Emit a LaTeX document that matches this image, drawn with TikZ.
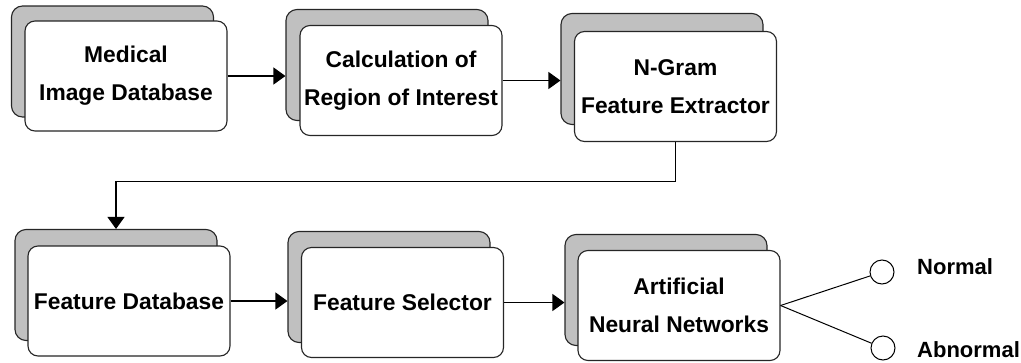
\documentclass[tikz,border=0pt]{standalone}
\usepackage{fontspec}
\setmainfont{Liberation Sans}
\usetikzlibrary{arrows.meta,positioning}
\definecolor{shadegray}{HTML}{C0C0C0}
\tikzset{
  backbox/.style={draw=black!85, line width=1.1pt, fill=shadegray, rounded corners=11pt,
    minimum width=202pt, minimum height=111pt, inner sep=0pt},
  frontbox/.style={draw=black!85, line width=1.1pt, fill=white, rounded corners=10pt,
    minimum width=202pt, minimum height=110pt, inner sep=2pt, align=center,
    font=\fontsize{22.8}{38}\selectfont\bfseries},
  flow/.style={line width=1.1pt, -{Triangle[length=12pt,width=17pt]}},
  link/.style={line width=1pt},
  outcome/.style={circle, draw=black, line width=1pt, minimum size=24pt, inner sep=0pt},
  outlabel/.style={anchor=west, inner sep=0pt, font=\fontsize{22}{24}\selectfont\bfseries}
}
\begin{document}
\begin{tikzpicture}[x=1pt,y=-1pt]
\useasboundingbox (0,0) rectangle (1021,362);

% top row
\node[backbox]  (b1) at (112.5,61.5) {};
\node[frontbox] (f1) at (126,76) {Medical\\Image Database};
\node[backbox]  (b2) at (387,65) {};
\node[frontbox] (f2) at (401,80.5) {Calculation of\\Region of Interest};
\node[backbox]  (b3) at (662,69) {};
\node[frontbox] (f3) at (675.5,86.5) {N-Gram\\Feature Extractor};

% bottom row
\node[backbox]  (b4) at (116,285) {};
\node[frontbox] (f4) at (129,301) {Feature Database};
\node[backbox]  (b5) at (389,287) {};
\node[frontbox] (f5) at (402.5,302.5) {Feature Selector};
\node[backbox]  (b6) at (666,290) {};
\node[frontbox] (f6) at (679,305.5) {Artificial\\Neural Networks};

% outcomes
\node[outcome] (c1) at (882,272) {};
\node[outcome] (c2) at (883,348) {};
\node[outlabel] (l1) at (917,267) {Normal};
\node[outlabel] (l2) at (917,350) {Abnormal};

% connectors
\draw[flow] (f1.east) -- (b2.west |- f1.east);
\draw[flow] (f2.east) -- (b3.west |- f2.east);
\draw[flow] (f3.south) -- ++(0,39) -| (b4.north);
\draw[flow] (f4.east) -- (b5.west |- f4.east);
\draw[flow] (f5.east) -- (b6.west |- f5.east);
\draw[link] (f6.east) -- (c1);
\draw[link] (f6.east) -- (c2);
\end{tikzpicture}
\end{document}
